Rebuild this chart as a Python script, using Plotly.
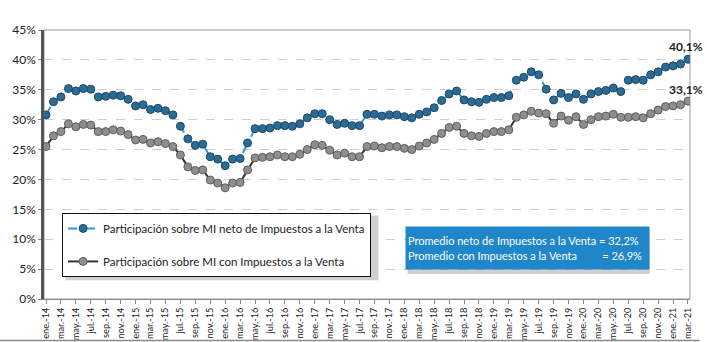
import plotly.graph_objects as go

meses = ["ene.", "feb.", "mar.", "abr.", "may.", "jun.", "jul.", "ago.", "sep.", "oct.", "nov.", "dic."]
categorias = [f"{m}-{str(a)[2:]}" for a in range(2014, 2022) for m in meses][:87]

neto = [30.8, 33.0, 33.8, 35.2, 34.8, 35.2, 35.1, 33.8, 33.9, 34.1, 34.0, 33.4,
        32.3, 32.5, 31.7, 31.9, 31.5, 30.8, 28.9, 26.8, 25.7, 25.9, 23.8, 23.4,
        22.3, 23.4, 23.5, 26.1, 28.5, 28.5, 28.6, 29.0, 29.0, 28.9, 29.3, 30.3,
        31.0, 31.0, 30.0, 29.2, 29.4, 29.0, 29.0, 30.9, 30.9, 30.6, 30.8, 30.8,
        30.5, 30.3, 30.9, 31.3, 32.0, 33.2, 34.3, 34.8, 33.3, 33.0, 32.9, 33.4,
        33.7, 33.7, 34.0, 36.6, 37.1, 38.0, 37.5, 35.1, 33.3, 34.4, 33.7, 34.3,
        33.4, 34.3, 34.7, 34.9, 35.3, 34.7, 36.6, 36.7, 36.6, 37.5, 38.0, 38.8,
        39.0, 39.3, 40.1]

con_imp = [25.5, 27.3, 28.0, 29.3, 28.8, 29.2, 29.1, 28.0, 28.0, 28.3, 28.1, 27.5,
           26.6, 26.7, 26.1, 26.3, 26.0, 25.5, 24.1, 22.1, 21.5, 21.6, 19.9, 19.4,
           18.6, 19.4, 19.5, 21.6, 23.6, 23.7, 23.8, 24.1, 23.8, 23.8, 24.2, 25.0,
           25.8, 25.7, 24.9, 24.1, 24.4, 23.8, 23.8, 25.5, 25.6, 25.3, 25.5, 25.5,
           25.2, 25.0, 25.6, 26.1, 26.7, 27.7, 28.7, 28.9, 27.7, 27.3, 27.2, 27.7,
           28.0, 28.0, 28.3, 30.4, 30.8, 31.4, 31.1, 31.0, 29.4, 30.6, 29.9, 30.5,
           29.2, 30.0, 30.5, 30.6, 30.9, 30.4, 30.4, 30.5, 30.3, 31.0, 31.6, 32.2,
           32.3, 32.5, 33.1]

nombre_neto = "Participación sobre MI neto de Impuestos a la Venta"
nombre_con = "Participación sobre MI con Impuestos a la Venta"
ultimo_neto = "40,1%"
ultimo_con = "33,1%"
texto_promedio = ("Promedio neto de Impuestos a la Venta = 32,2%<br>"
                  "Promedio con Impuestos a la Venta" + "\u00a0" * 9 + "= 26,9%")

yticks = list(range(0, 46, 5))
yticktext = [f"{v}%" for v in yticks]
x = list(range(len(categorias)))
tickvals = x[::2]
ticktext = categorias[::2]

FONT = "Lato, Open Sans, sans-serif"

fig = go.Figure()
fig.add_trace(go.Scatter(
    x=x, y=neto, name=nombre_neto, mode="lines+markers", legendgroup="a",
    line=dict(color="#2E9AD8", width=2, dash="dash"),
    marker=dict(size=8, color="#2C6B94", line=dict(color="#1B4A68", width=1)),
))
fig.add_trace(go.Scatter(
    x=x, y=con_imp, name=nombre_con, mode="lines+markers", legendgroup="b",
    line=dict(color="#333333", width=2),
    marker=dict(size=8, color="#8E8E8E", line=dict(color="#5E5E5E", width=1)),
))

fig.add_annotation(x=x[-1], y=neto[-1], text=f"<b>{ultimo_neto}</b>", showarrow=False,
                   yshift=13, xshift=-2, font=dict(size=12, color="#222", family=FONT))
fig.add_annotation(x=x[-1], y=con_imp[-1], text=f"<b>{ultimo_con}</b>", showarrow=False,
                   yshift=12, xshift=-2, font=dict(size=12, color="#222", family=FONT))

# blue summary box with shadow
fig.add_shape(type="rect", xref="paper", yref="paper", x0=0.563, x1=0.9375, y0=0.093, y1=0.26,
              line=dict(width=0), fillcolor="rgba(120,120,120,0.35)", layer="above")
fig.add_annotation(xref="paper", yref="paper", x=0.5588, y=0.2714, xanchor="left", yanchor="top",
                   text=texto_promedio, showarrow=False, align="left",
                   bgcolor="#1F86C9", width=239, height=38, borderpad=2,
                   font=dict(size=11, color="white", family=FONT))

# legend shadow
fig.add_shape(type="rect", xref="paper", yref="paper", x0=0.033, x1=0.5178, y0=0.07, y1=0.31,
              line=dict(width=0), fillcolor="rgba(120,120,120,0.35)", layer="below")

# plot frame
fig.add_shape(type="rect", xref="paper", yref="paper", x0=0, x1=1, y0=0, y1=1,
              line=dict(color="#9A9A9A", width=1), layer="below")
# outer bottom line
fig.add_shape(type="line", xref="paper", yref="paper", x0=-0.068, x1=1.015, y0=-0.154, y1=-0.154,
              line=dict(color="#8A8A8A", width=1.5))

fig.update_layout(
    width=707, height=342,
    margin=dict(l=44, r=17, t=30, b=43),
    paper_bgcolor="white", plot_bgcolor="white",
    font=dict(family=FONT, size=11, color="#222"),
    showlegend=True,
    legend=dict(x=0.028, y=0.32, xanchor="left", yanchor="top",
                bgcolor="white", bordercolor="#111", borderwidth=1,
                font=dict(size=11.5, family=FONT, color="#222"),
                tracegroupgap=14, itemwidth=30),
    xaxis=dict(range=[-0.27, 86.27], tickmode="array", tickvals=tickvals, ticktext=ticktext,
               tickangle=-90, tickfont=dict(size=9.2, family=FONT, color="#222"),
               showgrid=False, zeroline=False, showline=True, linecolor="#888", linewidth=1,
               ticks="outside", ticklen=4, tickcolor="#888", automargin=False),
    yaxis=dict(range=[0, 45], tickmode="array", tickvals=yticks, ticktext=yticktext,
               tickfont=dict(size=12, family=FONT, color="#222"),
               showgrid=True, gridcolor="#CFCFCF", griddash="dash", gridwidth=1,
               zeroline=False, showline=True, linecolor="#555", linewidth=2.5,
               ticks="outside", ticklen=3, tickcolor="#888", automargin=False),
)

fig.write_html("out.html")
